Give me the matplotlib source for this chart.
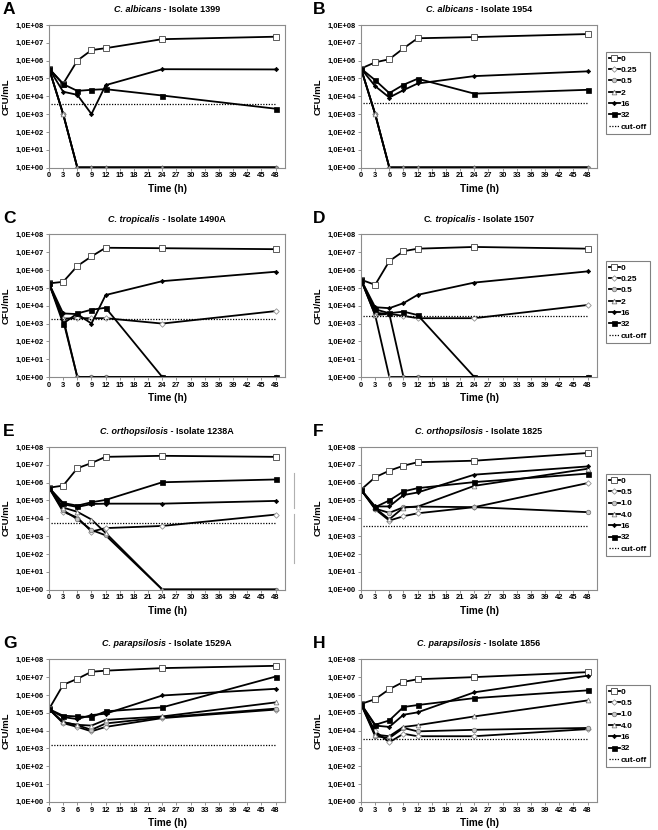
import numpy as np
import matplotlib
matplotlib.use("Agg")
import matplotlib.pyplot as plt
from matplotlib.lines import Line2D
from matplotlib.ticker import FixedLocator, NullLocator

plt.rcParams['font.family'] = ['Liberation Sans', 'DejaVu Sans']

# ---------------- data ----------------
times = [0, 3, 6, 9, 12, 24, 48]
yticks = [1e0, 1e1, 1e2, 1e3, 1e4, 1e5, 1e6, 1e7, 1e8]
ytick_labels = ["1,0E+00", "1,0E+01", "1,0E+02", "1,0E+03", "1,0E+04",
                "1,0E+05", "1,0E+06", "1,0E+07", "1,0E+08"]
xticks = list(range(0, 49, 3))

conc_ab = ["0", "0.25", "0.5", "2", "16", "32"]   # panels A-E
conc_ef = ["0", "0.5", "1.0", "4.0", "16", "32"]  # panels F-H

# A: C. albicans 1399
a_0 = [3.6e5, 5e4, 1e6, 3.9e6, 5e6, 1.6e7, 2.2e7]
a_025 = [3.6e5, 1e3, 1, 1, 1, 1, 1]
a_05 = [3.6e5, 1e3, 1, 1, 1, 1, 1]
a_2 = [3.6e5, 1e3, 1, 1, 1, 1, 1]
a_16 = [3.6e5, 1.8e4, 1.2e4, 1e3, 4.2e4, 3.3e5, 3.2e5]
a_32 = [3.6e5, 4.8e4, 2e4, 2.3e4, 2.5e4, 1.1e4, 2e3]
a_cut = 3.6e3

# B: C. albicans 1954
b_0 = [3.6e5, 8e5, 1.2e6, 4.9e6, 1.8e7, 2.1e7, 3.1e7]
b_025 = [3.6e5, 1e3, 1, 1, 1, 1, 1]
b_05 = [3.6e5, 1e3, 1, 1, 1, 1, 1]
b_2 = [3.6e5, 1e3, 1, 1, 1, 1, 1]
b_16 = [3.6e5, 3.7e4, 8.5e3, 2.2e4, 5.2e4, 1.35e5, 2.5e5]
b_32 = [3.6e5, 8e4, 1.5e4, 4.4e4, 9.6e4, 1.4e4, 2.3e4]
b_cut = 4e3

# C: C. tropicalis 1490A
c_0 = [1.8e5, 2.2e5, 1.7e6, 5.9e6, 1.8e7, 1.7e7, 1.5e7]
c_025 = [1.8e5, 1.9e3, 2e3, 2e3, 2e3, 1e3, 5e3]
c_05 = [1.8e5, 1.5e3, 1, 1, 1, 1, 1]
c_2 = [1.8e5, 2e3, 1, 1, 1, 1, 1]
c_16 = [1.8e5, 3.7e3, 3.4e3, 1e3, 4e4, 2.4e5, 8.1e5]
c_32 = [1.8e5, 1e3, 3.7e3, 6e3, 7.7e3, 1, 1]
c_cut = 1.9e3

# D: C. tropicalis 1507
d_0 = [2.9e5, 1.5e5, 3.2e6, 1.15e7, 1.6e7, 2e7, 1.6e7]
d_025 = [2.9e5, 3e3, 3.5e3, 2.7e3, 2e3, 2e3, 1.1e4]
d_05 = [2.9e5, 4e3, 3.5e3, 1, 1, 1, 1]
d_2 = [2.9e5, 3e3, 1, 1, 1, 1, 1]
d_16 = [2.9e5, 8.3e3, 7.3e3, 1.4e4, 4.1e4, 2e5, 8.5e5]
d_32 = [2.9e5, 6.3e3, 3.8e3, 4.7e3, 3e3, 1, 1]
d_cut = 2.7e3

# E: C. orthopsilosis 1238A
e_0 = [5.2e5, 6.8e5, 6.4e6, 1.26e7, 2.8e7, 3.2e7, 2.8e7]
e_025 = [5.2e5, 2.3e4, 1.1e4, 1.8e3, 2.8e3, 3.7e3, 1.6e4]
e_05 = [5.2e5, 2.8e4, 9e3, 2.2e3, 1.1e3, 1, 1]
e_2 = [5.2e5, 4e4, 2.3e4, 8.5e3, 1.5e3, 1, 1]
e_16 = [5.2e5, 6.1e4, 4.3e4, 6.3e4, 6.6e4, 6.6e4, 9.4e4]
e_32 = [5.2e5, 7.2e4, 5.1e4, 7.9e4, 1.07e5, 1.05e6, 1.5e6]
e_cut = 5.7e3

# F: C. orthopsilosis 1825
f_0 = [4e5, 2e6, 4.7e6, 8.9e6, 1.4e7, 1.7e7, 4.6e7]
f_05 = [4e5, 3.2e4, 7.4e3, 1.3e4, 1.9e4, 4.2e4, 9.4e5]
f_10 = [4e5, 3.5e4, 2e4, 4.2e4, 4.5e4, 4.2e4, 2.2e4]
f_40 = [4e5, 3.7e4, 8.7e3, 4e4, 4.5e4, 6.6e5, 6e6]
f_16 = [4e5, 4.6e4, 4.6e4, 2e5, 2.8e5, 2.8e6, 8.1e6]
f_32 = [4e5, 4.2e4, 1e5, 3.2e5, 4.9e5, 1.07e6, 3.2e6]
f_cut = 3.7e3

# G: C. parapsilosis 1529A
g_0 = [1.6e5, 3.7e6, 8e6, 2e7, 2.3e7, 3.2e7, 4.3e7]
g_05 = [1.6e5, 2.6e4, 1.6e4, 9e3, 1.6e4, 5e4, 1.5e5]
g_10 = [1.6e5, 3e4, 2e4, 1.1e4, 2.5e4, 5.5e4, 1.7e5]
g_40 = [1.6e5, 2.9e4, 2.1e4, 1.9e4, 4e4, 6.2e4, 3.8e5]
g_16 = [1.6e5, 5.7e4, 4.4e4, 7.4e4, 8.8e4, 9.3e5, 2.2e6]
g_32 = [1.6e5, 6.8e4, 6.2e4, 5.7e4, 1.2e5, 2e5, 1.07e7]
g_cut = 1.5e3

# H: C. parapsilosis 1856
h_0 = [3.1e5, 5.8e5, 2.1e6, 5.4e6, 7.6e6, 1e7, 1.9e7]
h_05 = [3.1e5, 9e3, 2.2e3, 6.6e3, 4.8e3, 4.8e3, 1.2e4]
h_10 = [3.1e5, 4.8e3, 3.8e3, 1.4e4, 9e3, 1.1e4, 1.4e4]
h_40 = [3.1e5, 5.9e3, 4.8e3, 1.6e4, 2e4, 6.2e4, 4.9e5]
h_16 = [3.1e5, 1.9e4, 1.6e4, 7.7e4, 1.05e5, 1.4e6, 1.2e7]
h_32 = [3.1e5, 2.1e4, 3.7e4, 2.1e5, 2.7e5, 6.6e5, 1.8e6]
h_cut = 3.4e3

# title pieces: (upright prefix, italic species, upright rest)
panels = [
    ("A", "", "C. albicans", " - Isolate 1399", conc_ab, [a_0, a_025, a_05, a_2, a_16, a_32], a_cut),
    ("B", "", "C. albicans", " - Isolate 1954", conc_ab, [b_0, b_025, b_05, b_2, b_16, b_32], b_cut),
    ("C", "", "C. tropicalis", " - Isolate 1490A", conc_ab, [c_0, c_025, c_05, c_2, c_16, c_32], c_cut),
    ("D", "C.", " tropicalis", " - Isolate 1507", conc_ab, [d_0, d_025, d_05, d_2, d_16, d_32], d_cut),
    ("E", "", "C. orthopsilosis", " - Isolate 1238A", conc_ab, [e_0, e_025, e_05, e_2, e_16, e_32], e_cut),
    ("F", "", "C. orthopsilosis", " - Isolate 1825", conc_ef, [f_0, f_05, f_10, f_40, f_16, f_32], f_cut),
    ("G", "", "C. parapsilosis", " - Isolate 1529A", conc_ef, [g_0, g_05, g_10, g_40, g_16, g_32], g_cut),
    ("H", "", "C. parapsilosis", " - Isolate 1856", conc_ef, [h_0, h_05, h_10, h_40, h_16, h_32], h_cut),
]
legend_panels = ["B", "D", "F", "H"]

# marker styles per series position
styles = [
    dict(marker='s', ms=3.8, mfc='white', mec='#404040', mew=0.6),
    dict(marker='D', ms=2.8, mfc='white', mec='#909090', mew=0.6),
    dict(marker='o', ms=3.2, mfc='#c8c8c8', mec='#7a7a7a', mew=0.6),
    dict(marker='^', ms=3.4, mfc='white', mec='#7a7a7a', mew=0.6),
    dict(marker='D', ms=2.2, mfc='black', mec='black', mew=0.5),
    dict(marker='s', ms=3.6, mfc='black', mec='black', mew=0.5),
]

# ---------------- layout (pixels) ----------------
W, H = 658, 830
fig = plt.figure(figsize=(W / 100, H / 100), dpi=100)
lefts = [49, 361]
tops = [25, 234.5, 447, 659.3]
aw, ah = 236, 142.5
leg_tops = [52, 261, 474, 685]

for i, (letter, pre, ital, rest, labels, series, cut) in enumerate(panels):
    row, col = i // 2, i % 2
    x0, y0 = lefts[col], tops[row]
    ax = fig.add_axes([x0 / W, 1 - (y0 + ah) / H, aw / W, ah / H])
    for lab, vals, st in zip(labels, series, styles):
        ax.plot(times, vals, color='black', lw=1.3, label=lab, **st)
    ax.plot([0.5, 48], [cut, cut], color='black', lw=0.9, ls=(0, (1, 1.2)), label='cut-off')

    ax.set_yscale('log')
    ax.set_ylim(1, 1e8)
    ax.set_xlim(0, 50)
    ax.yaxis.set_major_locator(FixedLocator(yticks))
    ax.yaxis.set_minor_locator(NullLocator())
    ax.set_yticks(yticks)
    ax.set_yticklabels(ytick_labels)
    ax.set_xticks(xticks)
    ax.set_xticklabels([str(t) for t in xticks])
    ax.tick_params(axis='both', labelsize=5.4, length=2, width=0.6, color='#808080', pad=1.5)
    for lbl in ax.get_xticklabels() + ax.get_yticklabels():
        lbl.set_fontweight('bold')
    for sp in ax.spines.values():
        sp.set_color('#8c8c8c')
        sp.set_linewidth(0.8)
    ax.set_xlabel("Time (h)", fontsize=7.2, fontweight='bold', labelpad=3)
    ax.set_ylabel("CFU/mL", fontsize=6.8, fontweight='bold')
    ax.yaxis.set_label_coords(-0.162, 0.5)

    # title: upright prefix + italic species + upright rest, all bold
    r = fig.canvas.get_renderer()
    parts = [(pre, 'normal'), (ital, 'italic'), (rest, 'normal')]
    objs = []
    for txt, sty in parts:
        if txt:
            objs.append(fig.text(0, 0, txt, fontsize=6.5, fontweight='bold', style=sty, va='center'))
    widths = [o.get_window_extent(r).width for o in objs]
    cx = x0 + aw / 2
    ty = 1 - (y0 - 15.5) / H
    xx = cx - sum(widths) / 2
    for o, w in zip(objs, widths):
        o.set_position((xx / W, ty))
        xx += w

    # panel letter
    lx = 3 if col == 0 else 313
    fig.text(lx / W, 1 - (y0 - 16) / H, letter, fontsize=12.5, fontweight='bold', va='center', ha='left')

    if letter in legend_panels:
        leg = ax.legend(loc='upper left', bbox_to_anchor=(606 / W, 1 - leg_tops[row] / H),
                        bbox_transform=fig.transFigure, fontsize=6, frameon=True,
                        fancybox=False, edgecolor='#606060', handlelength=1.3,
                        handletextpad=0.1, labelspacing=0.42, borderpad=0.35,
                        borderaxespad=0)
        leg.get_frame().set_linewidth(0.8)
        for txt in leg.get_texts():
            txt.set_fontweight('bold')

# stray gray lines beside panel E
fig.add_artist(Line2D([294 / W, 294 / W], [1 - 473 / H, 1 - 508 / H], color='#b0b0b0', lw=0.8))
fig.add_artist(Line2D([294 / W, 294 / W], [1 - 514 / H, 1 - 563 / H], color='#b0b0b0', lw=0.8))

fig.savefig("out.png", dpi=100)
